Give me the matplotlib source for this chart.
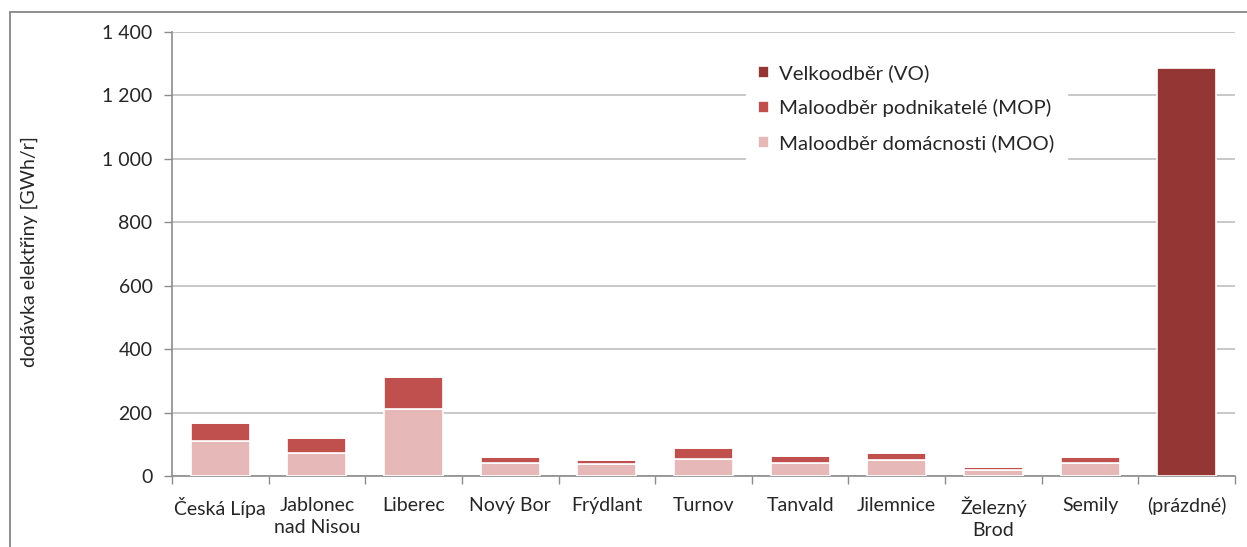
import numpy as np
import matplotlib
matplotlib.use('Agg')
import matplotlib.pyplot as plt
import matplotlib.ticker as mticker
from matplotlib.patches import Rectangle

# ---- data ----
categories = ['Česká Lípa', 'Jablonec\nnad Nisou', 'Liberec', 'Nový Bor', 'Frýdlant',
              'Turnov', 'Tanvald', 'Jilemnice', 'Železný\nBrod', 'Semily', '(prázdné)']
moo = [110, 74, 211, 41, 37, 55, 41, 50, 20, 41, 0]
mop = [56, 46, 100, 20, 14, 32, 23, 24, 7, 19, 0]
vo = [0, 0, 0, 0, 0, 0, 0, 0, 0, 0, 1287]
yticks = [0, 200, 400, 600, 800, 1000, 1200, 1400]

c_vo = '#943634'
c_mop = '#C0504D'
c_moo = '#E6B9B8'
grid_c = '#BFBFBF'
axis_c = '#8C8C8C'
txt_c = '#262626'

plt.rcParams['font.family'] = ['Lato', 'DejaVu Sans']

fig = plt.figure(figsize=(12.47, 5.47), dpi=100)
ax = fig.add_axes([172/1247, 1 - 476/547, (1235 - 172)/1247, (476 - 32)/547])

# outer chart frame
fig.patches.append(Rectangle((10/1247, -0.1), 1.2, 1 - 12/547 + 0.1,
                             transform=fig.transFigure, fill=False,
                             edgecolor='#868686', linewidth=1.3, clip_on=False))

x = np.arange(len(categories))
w = 0.61
kw = dict(width=w, edgecolor='white', linewidth=1.2, zorder=3)
moo_a = np.array(moo)
mop_a = np.array(mop)
ax.bar(x, moo, color=c_moo, label='Maloodběr domácnosti (MOO)', **kw)
ax.bar(x, mop, bottom=moo_a, color=c_mop, label='Maloodběr podnikatelé (MOP)', **kw)
ax.bar(x, vo, bottom=moo_a + mop_a, color=c_vo, label='Velkoodběr (VO)', **kw)

ax.set_ylim(0, 1400)
ax.set_xlim(-0.5, len(categories) - 0.5)
ax.set_yticks(yticks)
ax.yaxis.set_major_formatter(mticker.FuncFormatter(
    lambda v, p: f'{int(v):,}'.replace(',', ' ')))
ax.yaxis.grid(True, color=grid_c, linewidth=1.2, zorder=0)
ax.set_axisbelow(True)

# boundary ticks, labels at centres
ax.set_xticks(np.arange(-0.5, len(categories), 1.0))
ax.set_xticklabels([])
ax.set_xticks(x, minor=True)
ax.set_xticklabels(categories, minor=True, fontsize=14, color=txt_c, linespacing=1.35)
ax.tick_params(axis='x', which='major', length=6, color=axis_c, width=1)
ax.tick_params(axis='x', which='minor', length=0, pad=15)
ax.tick_params(axis='y', length=6, color=axis_c, width=1, labelsize=14,
               labelcolor=txt_c, pad=8)

for s in ['top', 'right']:
    ax.spines[s].set_visible(False)
for s in ['left', 'bottom']:
    ax.spines[s].set_color(axis_c)
    ax.spines[s].set_linewidth(1.2)

ax.set_ylabel('dodávka elektřiny [GWh/r]', fontsize=14, color=txt_c)
ax.yaxis.set_label_coords(38/1247, 1 - 252/547, transform=fig.transFigure)

h, l = ax.get_legend_handles_labels()
leg = ax.legend(h[::-1], l[::-1], loc='upper left', bbox_to_anchor=(0.53, 0.978),
                frameon=True, fontsize=14.7, handlelength=0.55, handleheight=0.55,
                handletextpad=0.5, labelspacing=0.84, borderpad=0.6)
leg.get_frame().set_edgecolor('white')
leg.get_frame().set_facecolor('white')
leg.get_frame().set_alpha(1)
for t in leg.get_texts():
    t.set_color(txt_c)

fig.savefig('out.png', dpi=100)
